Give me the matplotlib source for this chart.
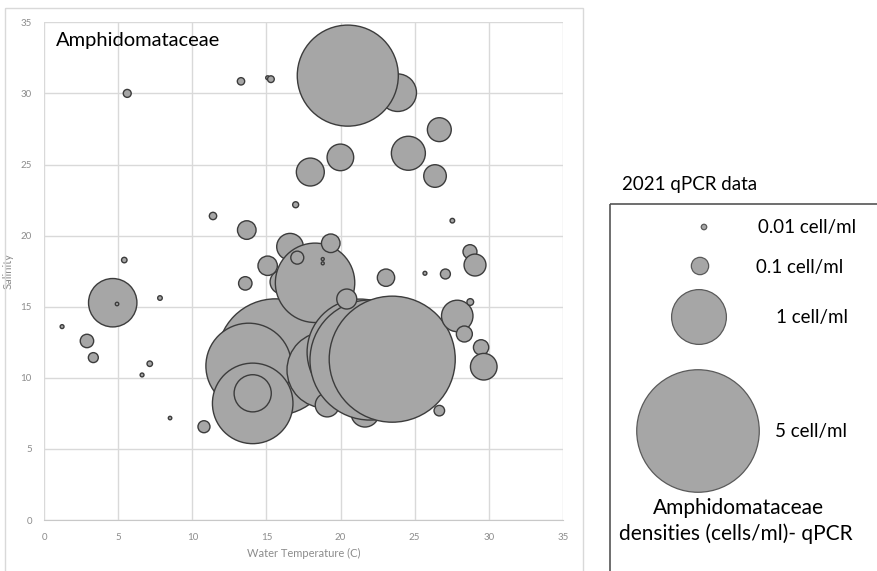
import numpy as np
import matplotlib
matplotlib.use("Agg")
import matplotlib.pyplot as plt
from matplotlib.patches import Rectangle

plt.rcParams['font.family'] = ['Lato', 'DejaVu Sans']

# ---------------------------------------------------------------
# Data (in drawing order: later = on top)
# ---------------------------------------------------------------
temp = [23.86, 20.49, 15.61, 16.05, 16.59, 18.28, 13.80, 18.95, 14.07, 14.07,
        19.10, 21.65, 21.32, 21.99, 23.49, 28.74, 29.08,
        5.60, 13.28, 15.08, 15.30, 11.39, 13.67, 16.97, 5.40, 13.57, 15.08,
        4.62, 4.91, 7.81, 1.20, 2.88, 3.31, 7.12, 6.60, 8.49, 10.78,
        17.08, 18.80, 18.80, 19.34, 20.42, 23.07,
        25.70, 27.08, 27.88, 28.76, 28.36, 29.49, 29.67, 26.67,
        26.67, 24.58, 19.99, 17.96, 26.38, 27.55]
salinity = [30.05, 31.25, 11.46, 16.74, 19.22, 16.68, 10.83, 10.55, 8.20, 8.91,
            8.09, 7.52, 11.81, 11.25, 11.31, 18.87, 17.93,
            30.00, 30.85, 31.10, 31.00, 21.38, 20.39, 22.17, 18.28, 16.64, 17.88,
            15.28, 15.19, 15.61, 13.60, 12.59, 11.42, 10.99, 10.20, 7.17, 6.56,
            18.45, 18.35, 18.05, 19.46, 15.54, 17.04,
            17.35, 17.30, 14.35, 15.33, 13.08, 12.14, 10.78, 7.69,
            27.45, 25.79, 25.50, 24.47, 24.19, 21.05]
density = [0.47, 3.40, 4.51, 0.19, 0.236, 2.10, 2.44, 1.92, 2.16, 0.46,
           0.19, 0.26, 3.74, 4.80, 5.29, 0.065, 0.16,
           0.021, 0.018, 0.005, 0.015, 0.018, 0.115, 0.012, 0.010, 0.060, 0.125,
           0.78, 0.004, 0.007, 0.005, 0.060, 0.033, 0.010, 0.005, 0.004, 0.048,
           0.056, 0.003, 0.003, 0.115, 0.133, 0.10,
           0.005, 0.033, 0.33, 0.015, 0.085, 0.078, 0.236, 0.037,
           0.19, 0.385, 0.236, 0.26, 0.17, 0.007]

legend_values = [0.01, 0.1, 1, 5]
legend_labels = ['0.01 cell/ml', '0.1 cell/ml', '1 cell/ml', '5 cell/ml']

# bubble area proportional to density (radius 27.4 px for 1 cell/ml)
DPI = 100
R1 = 27.4 * 72 / DPI          # radius in points for 1 cell/ml
def bubble_size(v):
    return (2 * R1) ** 2 * np.asarray(v, dtype=float)

FILL = '#a6a6a6'
EDGE = '#3c3c3c'
GRID = '#d9d9d9'
TICK = '#8c8c8c'

fig = plt.figure(figsize=(8.77, 5.71), dpi=DPI)

# main plot area
ax = fig.add_axes([44.3 / 877, 1 - 520 / 571, 518.4 / 877, 497.7 / 571])
ax.set_xlim(0, 35)
ax.set_ylim(0, 35)
ax.set_xticks(range(0, 36, 5))
ax.set_yticks(range(0, 36, 5))
ax.grid(True, color=GRID, lw=1.0)
ax.set_axisbelow(True)
for side in ['top', 'right', 'left']:
    ax.spines[side].set_visible(False)
ax.spines['bottom'].set_color('#c8c8c8')
ax.tick_params(length=0, labelsize=7, labelcolor=TICK, pad=9)

ax.scatter(temp, salinity, s=bubble_size(density), c=FILL,
           edgecolors=EDGE, linewidths=1.0, clip_on=False, zorder=3)

ax.set_xlabel('Water Temperature (C)', fontsize=8, color=TICK, labelpad=5)
ax.set_ylabel('Salinity', fontsize=8, color=TICK, labelpad=5)

# overlay in pixel coordinates for frame, title and bubble legend
lay = fig.add_axes([0, 0, 1, 1], zorder=5)
lay.set_xlim(0, 877)
lay.set_ylim(571, 0)
lay.axis('off')
lay.patch.set_alpha(0)

lay.add_patch(Rectangle((5, 8), 578, 570, fill=False, ec=GRID, lw=1.0))
lay.text(55.5, 46, 'Amphidomataceae', fontsize=14.5, color='black',
         ha='left', va='baseline')

lay.text(621.5, 190, '2021 qPCR data', fontsize=13.5, ha='left', va='baseline')
lay.add_patch(Rectangle((610, 204), 300, 400, fill=False, ec='#555555', lw=1.2))

leg_x = [704, 700, 699, 698]
leg_y = [227, 266, 317, 431]
lab_x = [758, 756.5, 775.5, 775]
lay.scatter(leg_x, leg_y, s=bubble_size(legend_values), c=FILL,
            edgecolors='#5a5a5a', linewidths=0.9, zorder=3)
for x, y, lab in zip(lab_x, leg_y, legend_labels):
    lay.text(x, y + 1, lab, fontsize=13.5, ha='left', va='center')

lay.text(738, 508, 'Amphidomataceae', fontsize=15, ha='center', va='center')
lay.text(736, 534, 'densities (cells/ml)- qPCR', fontsize=15,
         ha='center', va='center')

fig.savefig('out.png', dpi=DPI)
